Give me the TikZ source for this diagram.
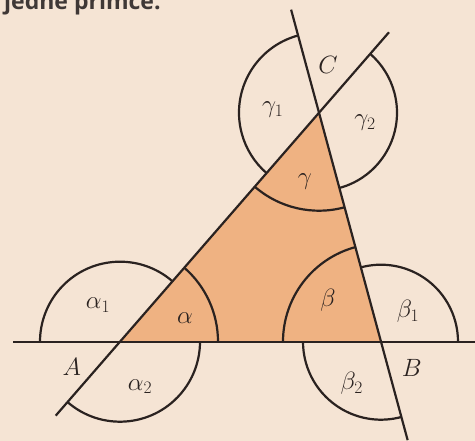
\RequirePackage{fix-cm}
\documentclass[tikz,border=0pt]{standalone}
\usepackage{fontspec}
\newfontfamily\hdrfont{Open Sans}
\usetikzlibrary{calc}
\definecolor{paper}{HTML}{F5E4D4}
\definecolor{peach}{HTML}{EFB282}
\definecolor{ink}{HTML}{2A2220}
\tikzset{
  geo/.style={draw=ink, line width=2.2pt},
  lbl/.style={text=ink, inner sep=0pt, font=\fontsize{25}{29}\selectfont},
}
\begin{document}
\begin{tikzpicture}[x=1pt,y=1pt]
\fill[paper] (0,0) rectangle (475,441);
\useasboundingbox (0,0) rectangle (475,441);
\clip (0,0) rectangle (475,441);
% header text (cut off at the top)
\node[anchor=base west, inner sep=0pt, text=ink!90, font=\hdrfont\bfseries\fontsize{23}{26}\selectfont] (hdr) at (4,431) {jedné přímce.};
% vertices
\coordinate (A) at (120,99.3);
\coordinate (B) at (381,99.3);
\coordinate (C) at (319,328.3);
% line ends
\coordinate (L0) at (13,99.3);
\coordinate (L1) at (475,99.3);
\coordinate (AC0) at ($(A)+(49:-98)$);
\coordinate (AC1) at ($(A)+(49:410)$);
\coordinate (BC0) at ($(B)+(105.15:-102)$);
\coordinate (BC1) at ($(B)+(105.15:344)$);
% triangle
\fill[peach] (A) -- (B) -- (C) -- cycle;
% arcs at A
\draw[geo] ($(A)+(0:98)$) arc[start angle=0, end angle=49, radius=98];
\draw[geo] ($(A)+(49:80)$) arc[start angle=49, end angle=180, radius=80];
\draw[geo] ($(A)+(-131:80)$) arc[start angle=-131, end angle=0, radius=80];
% arcs at B
\draw[geo] ($(B)+(105.15:98)$) arc[start angle=105.15, end angle=180, radius=98];
\draw[geo] ($(B)+(0:77)$) arc[start angle=0, end angle=105.15, radius=77];
\draw[geo] ($(B)+(180:78)$) arc[start angle=180, end angle=285.15, radius=78];
% arcs at C
\draw[geo] ($(C)+(229:98)$) arc[start angle=229, end angle=285.15, radius=98];
\draw[geo] ($(C)+(105.15:80)$) arc[start angle=105.15, end angle=229, radius=80];
\draw[geo] ($(C)+(-74.85:78)$) arc[start angle=-74.85, end angle=49, radius=78];
% lines
\draw[geo] (L0) -- (L1);
\draw[geo] (AC0) -- (AC1);
\draw[geo] (BC0) -- (BC1);
% labels
\node[lbl] (lC) at (328,376) {$C$};
\node[lbl] (lA) at (71.7,74.3) {$A$};
\node[lbl] (lB) at (411.7,72.7) {$B$};
\node[lbl] (g1) at (272.7,331) {$\gamma_1$};
\node[lbl] (g2) at (365,318) {$\gamma_2$};
\node[lbl] (g) at (305,259.3) {$\gamma$};
\node[lbl] (a1) at (98,136) {$\alpha_1$};
\node[lbl] (a) at (185,123) {$\alpha$};
\node[lbl] (a2) at (140,54.3) {$\alpha_2$};
\node[lbl] (b) at (328,141) {$\beta$};
\node[lbl] (b1) at (408,129.3) {$\beta_1$};
\node[lbl] (b2) at (351.7,57.7) {$\beta_2$};
\end{tikzpicture}
\end{document}
